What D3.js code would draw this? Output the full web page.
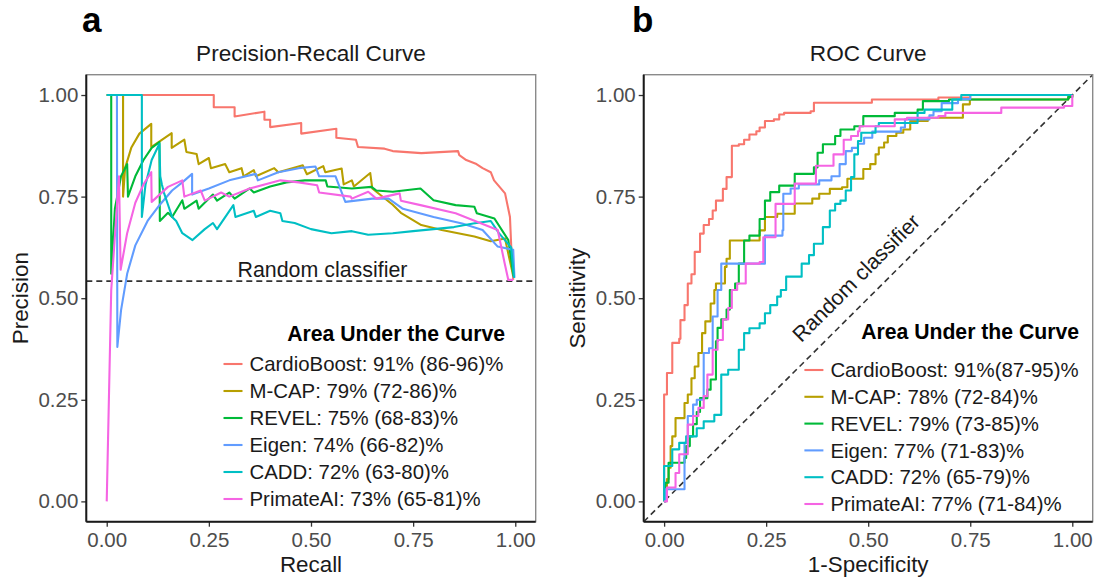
<!DOCTYPE html>
<html>
<head>
<meta charset="utf-8">
<script src="https://cdn.jsdelivr.net/npm/d3@7"></script>
<style>
  body { margin: 0; background: #fff; }
  text { font-family: "Liberation Sans", Arial, Helvetica, sans-serif; }
</style>
</head>
<body>
<svg id="fig" width="1101" height="579"></svg>
<script>
// series names, colours and legend labels
const methods = ['CardioBoost', 'M-CAP', 'REVEL', 'Eigen', 'CADD', 'PrimateAI'];
const colors = ['#F8766D', '#B79F00', '#00BA38', '#619CFF', '#00BFC4', '#F564E3'];
const prLabels = ['CardioBoost: 91% (86-96)%', 'M-CAP: 79% (72-86)%', 'REVEL: 75% (68-83)%',
  'Eigen: 74% (66-82)%', 'CADD: 72% (63-80)%', 'PrimateAI: 73% (65-81)%'];
const rocLabels = ['CardioBoost: 91%(87-95)%', 'M-CAP: 78% (72-84)%', 'REVEL: 79% (73-85)%',
  'Eigen: 77% (71-83)%', 'CADD: 72% (65-79)%', 'PrimateAI: 77% (71-84)%'];
const tickVals = [0, 0.25, 0.5, 0.75, 1];
const randomPrecision = 0.542;

// precision-recall curves [recall, precision]
const prCardioBoost = [[0,1],[0.262,1],[0.262,0.97],[0.313,0.97],[0.313,0.947],[0.386,0.959],[0.386,0.939],[0.40,0.939],[0.40,0.921],[0.476,0.931],[0.476,0.905],[0.562,0.917],[0.562,0.895],[0.61,0.89],[0.615,0.872],[0.68,0.868],[0.70,0.862],[0.77,0.857],[0.86,0.862],[0.863,0.852],[0.88,0.84],[0.905,0.83],[0.92,0.82],[0.94,0.81],[0.948,0.79],[0.975,0.758],[0.987,0.70],[0.99,0.63],[0.995,0.545]];
const prMCAP = [[0,1],[0.04,1],[0.04,0.75],[0.045,0.82],[0.06,0.87],[0.08,0.905],[0.109,0.929],[0.109,0.872],[0.159,0.906],[0.159,0.87],[0.19,0.89],[0.195,0.86],[0.22,0.855],[0.225,0.83],[0.25,0.845],[0.255,0.82],[0.29,0.83],[0.30,0.81],[0.33,0.82],[0.335,0.80],[0.36,0.815],[0.365,0.80],[0.41,0.82],[0.42,0.81],[0.48,0.827],[0.49,0.805],[0.53,0.825],[0.535,0.81],[0.575,0.819],[0.58,0.78],[0.6,0.79],[0.605,0.775],[0.645,0.808],[0.65,0.77],[0.7,0.73],[0.72,0.71],[0.77,0.68],[0.82,0.668],[0.9,0.652],[0.94,0.64],[0.975,0.647],[0.985,0.6],[0.995,0.555]];
const prREVEL = [[0,1],[0.011,1],[0.011,0.56],[0.02,0.72],[0.035,0.80],[0.05,0.83],[0.052,0.75],[0.07,0.80],[0.09,0.84],[0.11,0.87],[0.129,0.884],[0.13,0.69],[0.15,0.71],[0.16,0.70],[0.185,0.741],[0.19,0.72],[0.22,0.74],[0.225,0.72],[0.26,0.755],[0.27,0.74],[0.3,0.76],[0.313,0.745],[0.35,0.77],[0.36,0.76],[0.4,0.775],[0.44,0.785],[0.485,0.79],[0.536,0.79],[0.54,0.775],[0.6,0.77],[0.648,0.774],[0.66,0.765],[0.7,0.762],[0.768,0.77],[0.8,0.741],[0.854,0.729],[0.9,0.725],[0.906,0.709],[0.949,0.696],[0.983,0.643],[0.996,0.553]];
const prEigen = [[0.01,1],[0.025,1],[0.026,0.38],[0.035,0.47],[0.05,0.56],[0.07,0.63],[0.1,0.69],[0.13,0.73],[0.16,0.765],[0.185,0.785],[0.209,0.806],[0.209,0.755],[0.25,0.77],[0.3,0.79],[0.365,0.806],[0.37,0.79],[0.42,0.81],[0.47,0.82],[0.511,0.824],[0.52,0.80],[0.56,0.80],[0.584,0.737],[0.65,0.745],[0.69,0.745],[0.725,0.72],[0.8,0.70],[0.87,0.684],[0.92,0.668],[0.957,0.627],[0.995,0.619],[0.998,0.55]];
const prCADD = [[0,1],[0.086,1],[0.086,0.70],[0.095,0.78],[0.11,0.84],[0.129,0.88],[0.131,0.80],[0.135,0.78],[0.14,0.76],[0.15,0.73],[0.16,0.70],[0.17,0.69],[0.185,0.66],[0.21,0.643],[0.24,0.67],[0.26,0.685],[0.27,0.67],[0.31,0.729],[0.315,0.70],[0.36,0.715],[0.365,0.70],[0.4,0.715],[0.425,0.709],[0.43,0.69],[0.46,0.685],[0.5,0.67],[0.55,0.66],[0.6,0.665],[0.64,0.656],[0.7,0.66],[0.75,0.665],[0.8,0.67],[0.85,0.675],[0.897,0.684],[0.94,0.69],[0.96,0.66],[0.99,0.625],[0.997,0.55]];
const prPrimateAI = [[0,0],[0.011,0.52],[0.03,0.80],[0.034,0.57],[0.05,0.66],[0.07,0.735],[0.09,0.78],[0.109,0.81],[0.11,0.737],[0.15,0.774],[0.185,0.79],[0.19,0.75],[0.23,0.765],[0.24,0.74],[0.28,0.76],[0.3,0.75],[0.35,0.77],[0.425,0.79],[0.47,0.785],[0.515,0.778],[0.52,0.76],[0.597,0.75],[0.6,0.745],[0.64,0.762],[0.66,0.745],[0.717,0.758],[0.72,0.74],[0.768,0.729],[0.854,0.709],[0.897,0.692],[0.957,0.668],[0.974,0.586],[0.983,0.545],[0.995,0.545]];

// ROC curves [1-specificity, sensitivity], drawn as steps
const rocCardioBoost = [[0,0],[0,0.263],[0.007,0.316],[0.02,0.39],[0.037,0.40],[0.04,0.446],[0.05,0.483],[0.058,0.536],[0.067,0.559],[0.075,0.614],[0.088,0.659],[0.097,0.68],[0.11,0.695],[0.119,0.716],[0.127,0.74],[0.144,0.769],[0.153,0.798],[0.166,0.875],[0.183,0.879],[0.196,0.89],[0.209,0.903],[0.226,0.911],[0.234,0.92],[0.247,0.936],[0.269,0.94],[0.282,0.952],[0.294,0.956],[0.359,0.96],[0.367,0.981],[0.509,0.989],[0.672,0.994],[0.75,1],[1,1]];
const rocMCAP = [[0,0],[0.003,0.03],[0.007,0.055],[0.011,0.083],[0.016,0.136],[0.02,0.16],[0.028,0.205],[0.05,0.242],[0.058,0.263],[0.067,0.303],[0.075,0.332],[0.084,0.365],[0.093,0.414],[0.101,0.443],[0.114,0.487],[0.123,0.52],[0.127,0.536],[0.149,0.577],[0.153,0.597],[0.161,0.642],[0.234,0.667],[0.247,0.70],[0.277,0.708],[0.32,0.733],[0.363,0.745],[0.38,0.757],[0.406,0.769],[0.436,0.773],[0.449,0.794],[0.488,0.818],[0.505,0.83],[0.518,0.854],[0.526,0.871],[0.539,0.883],[0.548,0.899],[0.569,0.907],[0.586,0.915],[0.603,0.936],[0.646,0.944],[0.732,0.977],[0.749,0.989],[0.99,0.995],[1,1]];
const rocREVEL = [[0,0],[0.003,0.046],[0.011,0.095],[0.05,0.107],[0.054,0.136],[0.063,0.16],[0.071,0.19],[0.08,0.22],[0.088,0.254],[0.106,0.275],[0.114,0.30],[0.127,0.394],[0.131,0.427],[0.14,0.448],[0.153,0.472],[0.161,0.52],[0.174,0.536],[0.183,0.585],[0.196,0.642],[0.209,0.654],[0.234,0.695],[0.247,0.74],[0.26,0.761],[0.282,0.777],[0.32,0.806],[0.367,0.822],[0.376,0.858],[0.389,0.879],[0.419,0.899],[0.432,0.915],[0.466,0.923],[0.488,0.948],[0.565,0.956],[0.621,0.964],[0.634,0.985],[0.698,0.989],[0.99,0.995],[1,1]];
const rocEigen = [[0,0],[0.003,0.03],[0.05,0.03],[0.05,0.144],[0.058,0.21],[0.071,0.238],[0.08,0.25],[0.097,0.303],[0.097,0.365],[0.11,0.377],[0.119,0.455],[0.131,0.52],[0.14,0.585],[0.247,0.654],[0.29,0.667],[0.292,0.757],[0.31,0.77],[0.33,0.78],[0.38,0.79],[0.41,0.80],[0.43,0.83],[0.445,0.862],[0.46,0.87],[0.475,0.88],[0.49,0.895],[0.51,0.91],[0.58,0.92],[0.59,0.94],[0.65,0.95],[0.66,0.96],[0.68,0.98],[0.72,0.99],[0.75,1],[1,1]];
const rocCADD = [[0,0],[0,0.087],[0.02,0.128],[0.037,0.144],[0.054,0.16],[0.08,0.18],[0.097,0.197],[0.123,0.213],[0.14,0.312],[0.157,0.324],[0.183,0.373],[0.196,0.414],[0.209,0.426],[0.234,0.438],[0.247,0.463],[0.26,0.483],[0.277,0.504],[0.286,0.52],[0.299,0.553],[0.337,0.585],[0.355,0.606],[0.367,0.634],[0.389,0.675],[0.406,0.716],[0.419,0.732],[0.432,0.74],[0.445,0.765],[0.458,0.798],[0.466,0.854],[0.475,0.887],[0.483,0.907],[0.518,0.923],[0.526,0.931],[0.621,0.956],[0.638,0.964],[0.706,0.989],[0.728,1],[1,1]];
const rocPrimateAI = [[0,0],[0.007,0.034],[0.028,0.07],[0.037,0.116],[0.058,0.189],[0.071,0.21],[0.084,0.23],[0.097,0.259],[0.106,0.312],[0.119,0.373],[0.131,0.397],[0.144,0.448],[0.157,0.476],[0.166,0.52],[0.179,0.536],[0.2,0.585],[0.234,0.589],[0.243,0.65],[0.273,0.732],[0.32,0.782],[0.372,0.826],[0.415,0.854],[0.44,0.89],[0.458,0.899],[0.475,0.911],[0.479,0.923],[0.565,0.94],[0.595,0.944],[0.672,0.948],[0.689,0.956],[0.826,0.969],[0.98,0.973],[1,1]];

const prCurves = [prCardioBoost, prMCAP, prREVEL, prEigen, prCADD, prPrimateAI];
const rocCurves = [rocCardioBoost, rocMCAP, rocREVEL, rocEigen, rocCADD, rocPrimateAI];

const svg = d3.select('#fig');
svg.append('rect').attr('width', 1101).attr('height', 579).attr('fill', '#fff');

function drawPanel(cfg) {
  const x = d3.scaleLinear().domain([-0.05, 1.05]).range([cfg.left, cfg.right]);
  const y = d3.scaleLinear().domain([-0.05, 1.05]).range([cfg.bottom, cfg.top]);
  const g = svg.append('g');

  // clip so lines stay inside the panel
  const clipId = 'clip-' + cfg.tag;
  svg.append('clipPath').attr('id', clipId).append('rect')
      .attr('x', cfg.left).attr('y', cfg.top)
      .attr('width', cfg.right - cfg.left).attr('height', cfg.bottom - cfg.top);

  const plot = g.append('g').attr('clip-path', `url(#${clipId})`);

  // reference line
  if (cfg.tag === 'pr') {
    plot.append('line')
        .attr('x1', x(-0.05)).attr('x2', x(1.05))
        .attr('y1', y(randomPrecision)).attr('y2', y(randomPrecision))
        .attr('stroke', '#333').attr('stroke-width', 1.6).attr('stroke-dasharray', '6,4');
  } else {
    plot.append('line')
        .attr('x1', x(-0.05)).attr('y1', y(-0.05))
        .attr('x2', x(1.05)).attr('y2', y(1.05))
        .attr('stroke', '#333').attr('stroke-width', 1.6).attr('stroke-dasharray', '6,4');
  }

  const line = d3.line().x(d => x(d[0])).y(d => y(d[1])).curve(cfg.curve);
  cfg.curves.forEach((c, i) => {
    plot.append('path')
        .attr('d', line(c))
        .attr('fill', 'none')
        .attr('stroke', colors[i])
        .attr('stroke-width', 2.1)
        .attr('stroke-linejoin', 'round');
  });

  // panel border (grey), then black axis lines
  g.append('rect')
      .attr('x', cfg.left).attr('y', cfg.top)
      .attr('width', cfg.right - cfg.left).attr('height', cfg.bottom - cfg.top)
      .attr('fill', 'none').attr('stroke', '#8a8a8a').attr('stroke-width', 1.4);

  const xAxis = d3.axisBottom(x).tickValues(tickVals).tickFormat(d3.format('.2f'))
      .tickSize(5).tickPadding(6);
  const yAxis = d3.axisLeft(y).tickValues(tickVals).tickFormat(d3.format('.2f'))
      .tickSize(5).tickPadding(3);

  const xg = g.append('g').attr('transform', `translate(0,${cfg.bottom})`).call(xAxis);
  const yg = g.append('g').attr('transform', `translate(${cfg.left},0)`).call(yAxis);
  [xg, yg].forEach(a => {
    a.select('.domain').remove();
    a.selectAll('.tick line').attr('stroke', '#333').attr('stroke-width', 1.3);
    a.selectAll('.tick text').attr('fill', '#4d4d4d')
        .style('font-size', '20.5px').style('font-family', '"Liberation Sans", Arial, sans-serif');
  });

  g.append('line').attr('x1', cfg.left).attr('x2', cfg.right)
      .attr('y1', cfg.bottom).attr('y2', cfg.bottom)
      .attr('stroke', '#1a1a1a').attr('stroke-width', 2);
  g.append('line').attr('x1', cfg.left).attr('x2', cfg.left)
      .attr('y1', cfg.top).attr('y2', cfg.bottom)
      .attr('stroke', '#1a1a1a').attr('stroke-width', 2);

  // titles
  g.append('text')
      .attr('x', (cfg.left + cfg.right) / 2).attr('y', 61)
      .attr('text-anchor', 'middle').style('font-size', '22.6px').attr('fill', '#1a1a1a')
      .text(cfg.title);
  g.append('text')
      .attr('x', cfg.panelX).attr('y', 32)
      .style('font-size', '35px').style('font-weight', 'bold')
      .text(cfg.panel);
  g.append('text')
      .attr('x', (cfg.left + cfg.right) / 2).attr('y', 572)
      .attr('text-anchor', 'middle').style('font-size', '22.4px').attr('fill', '#1a1a1a')
      .text(cfg.xTitle);
  g.append('text')
      .attr('transform', `translate(${cfg.yTitleX},${(cfg.top + cfg.bottom) / 2}) rotate(-90)`)
      .attr('text-anchor', 'middle').style('font-size', '22.4px').attr('fill', '#1a1a1a')
      .text(cfg.yTitle);

  // random classifier label
  if (cfg.tag === 'pr') {
    g.append('text')
        .attr('x', x(0.32)).attr('y', y(randomPrecision) - 4)
        .style('font-size', '21.4px').attr('fill', '#1a1a1a')
        .text('Random classifier');
  } else {
    g.append('text')
        .attr('transform', `translate(${x(0.47)},${y(0.55)}) rotate(-45)`)
        .attr('text-anchor', 'middle').attr('dy', '0.35em')
        .style('font-size', '21.4px').attr('fill', '#1a1a1a')
        .text('Random classifier');
  }

  // legend
  const lg = g.append('g');
  lg.append('text')
      .attr('x', cfg.legendRight).attr('y', cfg.legendTitleY).attr('dy', '0.35em')
      .attr('text-anchor', 'end')
      .style('font-size', '21.2px').style('font-weight', 'bold')
      .text('Area Under the Curve');
  cfg.labels.forEach((lab, i) => {
    const yy = cfg.legendY0 + i * cfg.legendStep;
    lg.append('line')
        .attr('x1', cfg.keyX).attr('x2', cfg.keyX + 19)
        .attr('y1', yy).attr('y2', yy)
        .attr('stroke', colors[i]).attr('stroke-width', 2.1);
    lg.append('text')
        .attr('x', cfg.keyX + 26).attr('y', yy).attr('dy', '0.35em')
        .style('font-size', '20.4px').attr('fill', '#1a1a1a')
        .text(lab);
  });
}

drawPanel({
  tag: 'pr', panel: 'a', panelX: 82, title: 'Precision-Recall Curve',
  xTitle: 'Recall', yTitle: 'Precision', yTitleX: 28,
  left: 86.3, right: 535.7, top: 74.7, bottom: 521.7,
  curves: prCurves, curve: d3.curveLinear, labels: prLabels,
  legendRight: 505, legendTitleY: 334, legendY0: 364, legendStep: 27, keyX: 223.5
});

drawPanel({
  tag: 'roc', panel: 'b', panelX: 632, title: 'ROC Curve',
  xTitle: '1-Specificity', yTitle: 'Sensitivity', yTitleX: 585,
  left: 643.7, right: 1092.7, top: 74.7, bottom: 521.7,
  curves: rocCurves, curve: d3.curveStepAfter, labels: rocLabels,
  legendRight: 1079, legendTitleY: 332, legendY0: 370, legendStep: 26.8, keyX: 804.4
});
</script>
</body>
</html>
